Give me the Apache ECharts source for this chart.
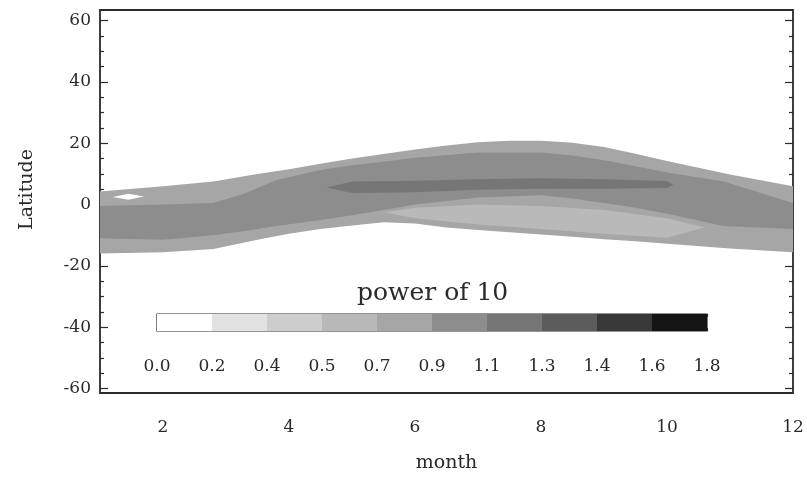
<!DOCTYPE html>
<html>
<head>
<meta charset="utf-8">
<script src="https://cdn.jsdelivr.net/npm/echarts@6/dist/echarts.min.js"></script>
<style>
html,body{margin:0;padding:0;background:#fff;}
#chart{width:807px;height:478px;}
</style>
</head>
<body>
<div id="chart"></div>
<script>
// ---------- data ----------
// colour scale (power of 10)
const colorbarLabels = ['0.0','0.2','0.4','0.5','0.7','0.9','1.1','1.3','1.4','1.6','1.8'];
const levelColors = ['#ffffff','#e2e2e2','#cdcdcd','#b9b9b9','#a6a6a6','#8d8d8d','#767676','#5c5c5c','#383838','#141414'];

// axis ticks
const xTickLabels = [2, 4, 6, 8, 10, 12];
const xMajorTicks = [2, 4, 6, 8, 10];
const xMinorTicks = [1.5, 2.5, 3, 3.5, 4.5, 5, 5.5, 6.5, 7, 7.5, 8.5, 9, 9.5, 10.5, 11, 11.5];
const yTickLabels = [-60, -40, -20, 0, 20, 40, 60];
const yMinorTicks = [-55, -50, -45, -35, -30, -25, -15, -10, -5, 5, 10, 15, 25, 30, 35, 45, 50, 55];

// filled contour regions: latitude of upper / lower boundary at given months
const outerMonths = [1, 2, 2.8, 3.5, 4, 4.5, 5, 5.5, 6, 6.5, 7, 7.5, 8, 8.5, 9, 9.5, 10, 11, 12];
const outerTop    = [4.3, 6, 7.5, 10, 11.5, 13.3, 15, 16.5, 18, 19.3, 20.3, 20.8, 20.8, 20.2, 18.8, 16.6, 14.2, 9.8, 6];
const outerBottom = [-16, -15.6, -14.5, -11.5, -9.5, -8, -6.8, -5.8, -6.2, -7.5, -8.3, -9, -9.8, -10.5, -11.3, -12, -12.8, -14.3, -15.6];

const midMonths = [1, 2, 2.8, 3.3, 3.8, 4.5, 5, 5.5, 6, 7, 8, 8.5, 9, 9.5, 10, 10.9, 12];
const midTop    = [-0.5, 0, 0.5, 3.6, 8, 11.3, 12.8, 14, 15.3, 17, 17, 16, 14.5, 12.5, 10.5, 7.5, 0.5];
const midBottom = [-11, -11.5, -10, -8.6, -7, -5, -3.5, -1.8, 0, 2.3, 3, 2, 0.5, -1, -3, -7, -8];

const lowMonths = [5.5, 6, 7, 8, 9, 10, 10.6];
const lowTop    = [-2.5, -1, 0, -0.5, -1.8, -4.5, -7.5];
const lowBottom = [-2.5, -4.5, -6.5, -8, -9.5, -10.8, -7.5];

const coreMonths = [4.6, 5, 6, 7, 8, 9, 10, 10.1];
const coreTop    = [5.6, 7.5, 7.8, 8.3, 8.6, 8.3, 7.7, 6.5];
const coreBottom = [5.6, 3.8, 4, 4.8, 5.2, 5.2, 5.4, 6.5];

const spotMonths = [1.2, 1.45, 1.7];
const spotTop    = [2.5, 3.5, 2.6];
const spotBottom = [2.5, 1.6, 2.6];

const regions = [
  {months: outerMonths, top: outerTop, bottom: outerBottom, level: 4},
  {months: midMonths,   top: midTop,   bottom: midBottom,   level: 5},
  {months: lowMonths,   top: lowTop,   bottom: lowBottom,   level: 3},
  {months: coreMonths,  top: coreTop,  bottom: coreBottom,  level: 6},
  {months: spotMonths,  top: spotTop,  bottom: spotBottom,  level: 0}
];

// ---------- chart ----------
const FONT = 'DejaVu Serif';
const TXT = '#2a2a2a';
const chart = echarts.init(document.getElementById('chart'), null, {renderer: 'canvas'});

function regionItem(params, api) {
  const r = regions[params.dataIndex];
  let pts = [];
  r.months.forEach((m, i) => pts.push(api.coord([m, r.top[i]])));
  for (let i = r.months.length - 1; i >= 0; i--) pts.push(api.coord([r.months[i], r.bottom[i]]));
  const out = [];
  pts.forEach(p => {
    const q = out[out.length - 1];
    if (!q || Math.abs(q[0] - p[0]) > 0.01 || Math.abs(q[1] - p[1]) > 0.01) out.push(p);
  });
  if (out.length > 1) {
    const a = out[0], b = out[out.length - 1];
    if (Math.abs(a[0] - b[0]) < 0.01 && Math.abs(a[1] - b[1]) < 0.01) out.pop();
  }
  return {
    type: 'polygon',
    shape: {points: out},
    style: {fill: levelColors[r.level], stroke: null}
  };
}

const tickStyle = {color: TXT, width: 1.2};
const Y_MIN = -61.5, Y_MAX = 63.5;

const option = {
  animation: false,
  backgroundColor: '#fff',
  title: {
    text: 'power of 10',
    left: 352, top: 276,
    textStyle: {fontFamily: FONT, fontSize: 25, fontWeight: 'normal', color: TXT}
  },
  grid: [
    {left: 100, right: 14, top: 10, bottom: 84, show: true, borderColor: TXT, borderWidth: 1.8, backgroundColor: 'transparent'},
    {left: 157, right: 100, top: 314, height: 17, show: true, borderColor: TXT, borderWidth: 1.2, backgroundColor: 'transparent'}
  ],
  xAxis: [
    {gridIndex: 0, type: 'value', position: 'bottom', min: 1, max: 12,
     name: 'month', nameLocation: 'middle', nameGap: 61,
     nameTextStyle: {fontFamily: FONT, fontSize: 19, color: TXT},
     axisLine: {show: false}, splitLine: {show: false},
     axisTick: {show: true, inside: true, length: 7, lineStyle: tickStyle, customValues: xMajorTicks},
     axisLabel: {show: true, margin: 26, fontFamily: FONT, fontSize: 17, color: TXT, customValues: xTickLabels}},
    {gridIndex: 0, type: 'value', position: 'bottom', min: 1, max: 12,
     axisLine: {show: false}, splitLine: {show: false}, axisLabel: {show: false},
     axisTick: {show: true, inside: true, length: 4, lineStyle: tickStyle, customValues: xMinorTicks}},
    {gridIndex: 0, type: 'value', position: 'top', min: 1, max: 12,
     axisLine: {show: false}, splitLine: {show: false}, axisLabel: {show: false},
     axisTick: {show: true, inside: true, length: 7, lineStyle: tickStyle, customValues: xMajorTicks}},
    {gridIndex: 0, type: 'value', position: 'top', min: 1, max: 12,
     axisLine: {show: false}, splitLine: {show: false}, axisLabel: {show: false},
     axisTick: {show: true, inside: true, length: 4, lineStyle: tickStyle, customValues: xMinorTicks}},
    {gridIndex: 1, type: 'value', position: 'bottom', min: 0, max: 10, interval: 1,
     axisLine: {show: false}, splitLine: {show: false},
     axisTick: {show: true, inside: true, length: 3, lineStyle: tickStyle},
     axisLabel: {show: true, margin: 27, fontFamily: FONT, fontSize: 17, color: TXT,
                 showMinLabel: true, showMaxLabel: true,
                 formatter: v => colorbarLabels[Math.round(v)]}},
    {gridIndex: 1, type: 'value', position: 'top', min: 0, max: 10, interval: 1,
     axisLine: {show: false}, splitLine: {show: false}, axisLabel: {show: false},
     axisTick: {show: true, inside: true, length: 3, lineStyle: tickStyle}}
  ],
  yAxis: [
    {gridIndex: 0, type: 'value', position: 'left', min: Y_MIN, max: Y_MAX,
     name: 'Latitude', nameLocation: 'middle', nameGap: 63, nameRotate: 90,
     nameTextStyle: {fontFamily: FONT, fontSize: 19, color: TXT, padding: [0, 0, 0, 24]},
     axisLine: {show: false}, splitLine: {show: false},
     axisTick: {show: true, inside: true, length: 8, lineStyle: tickStyle, customValues: yTickLabels},
     axisLabel: {show: true, margin: 9, fontFamily: FONT, fontSize: 17, color: TXT, customValues: yTickLabels}},
    {gridIndex: 0, type: 'value', position: 'left', min: Y_MIN, max: Y_MAX,
     axisLine: {show: false}, splitLine: {show: false}, axisLabel: {show: false},
     axisTick: {show: true, inside: true, length: 4, lineStyle: tickStyle, customValues: yMinorTicks}},
    {gridIndex: 0, type: 'value', position: 'right', min: Y_MIN, max: Y_MAX,
     axisLine: {show: false}, splitLine: {show: false}, axisLabel: {show: false},
     axisTick: {show: true, inside: true, length: 8, lineStyle: tickStyle, customValues: yTickLabels}},
    {gridIndex: 0, type: 'value', position: 'right', min: Y_MIN, max: Y_MAX,
     axisLine: {show: false}, splitLine: {show: false}, axisLabel: {show: false},
     axisTick: {show: true, inside: true, length: 4, lineStyle: tickStyle, customValues: yMinorTicks}},
    {gridIndex: 1, type: 'category', data: ['bar'], show: false}
  ],
  series: [
    {
      type: 'custom',
      coordinateSystem: 'cartesian2d',
      xAxisIndex: 0, yAxisIndex: 0,
      clip: true,
      silent: true,
      renderItem: regionItem,
      data: regions.map((r, i) => [r.months[0], r.top[0], i]),
      z: 1
    }
  ].concat(levelColors.map((c, i) => ({
    type: 'bar',
    xAxisIndex: 4, yAxisIndex: 4,
    stack: 'colorbar',
    barWidth: '100%',
    silent: true,
    itemStyle: {color: c},
    data: [1],
    z: 1
  })))
};
chart.setOption(option);
</script>
</body>
</html>
